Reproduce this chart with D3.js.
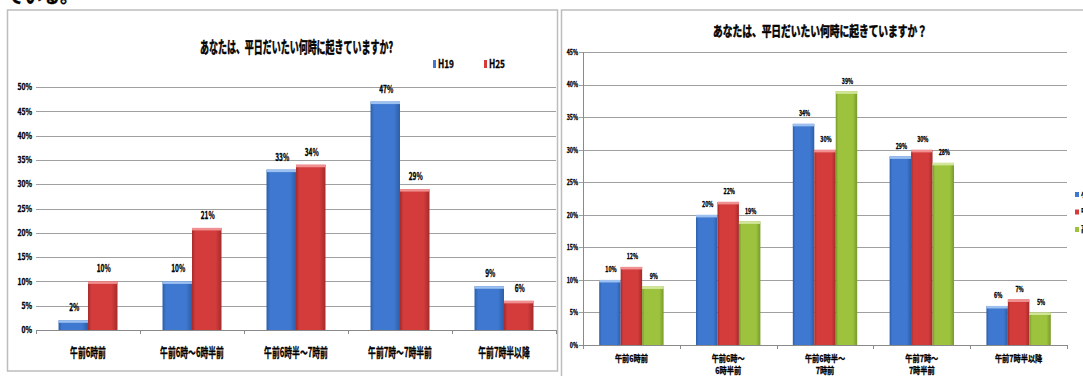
<!DOCTYPE html>
<html><head><meta charset="utf-8">
<script src="https://cdn.jsdelivr.net/npm/d3@7"></script>
<style>
html,body{margin:0;padding:0;background:#fff;}
svg{display:block;}
text{font-family:"Noto Sans CJK JP","Noto Sans",sans-serif;font-weight:bold;fill:#000;stroke:#000;stroke-width:0.3px;}
text.title{stroke-width:0.55px;}
</style></head><body>
<svg id="c" width="1083" height="376"></svg>
<script>
// ---- data ----
const titleA = "あなたは、平日だいたい何時に起きていますか?";
const titleB = "あなたは、平日だいたい何時に起きていますか？";
const categoriesA = ["午前6時前", "午前6時～6時半前", "午前6時半～7時前", "午前7時～7時半前", "午前7時半以降"];
const categoriesB = [["午前6時前"], ["午前6時～", "6時半前"], ["午前6時半～", "7時前"], ["午前7時～", "7時半前"], ["午前7時半以降"]];
const seriesA = ["H19", "H25"];
const h19 = [2, 10, 33, 47, 9];
const h25 = [10, 21, 34, 29, 6];
const seriesB = ["小学生", "中学生", "高校生"];
const valuesB1 = [10, 20, 34, 29, 6];
const valuesB2 = [12, 22, 30, 30, 7];
const valuesB3 = [9, 19, 39, 28, 5];
const ticksA = [0, 5, 10, 15, 20, 25, 30, 35, 40, 45, 50];
const ticksB = [0, 5, 10, 15, 20, 25, 30, 35, 40, 45];

const svg = d3.select("#c");

// bar fills: slightly darker edges and a pale cap on top
const palette = {
  blue:  {dark: "#2c5ea8", main: "#3f78d0", light: "#9cc0f0"},
  red:   {dark: "#a52a2a", main: "#d43c3c", light: "#f09090"},
  green: {dark: "#78992a", main: "#9dc23e", light: "#d2e69a"}
};
const defs = svg.append("defs");
Object.entries(palette).forEach(([k, c]) => {
  const g = defs.append("linearGradient").attr("id", "g-" + k)
    .attr("x1", 0).attr("x2", 1).attr("y1", 0).attr("y2", 0);
  g.append("stop").attr("offset", 0).attr("stop-color", c.dark);
  g.append("stop").attr("offset", 0.12).attr("stop-color", c.main);
  g.append("stop").attr("offset", 0.8).attr("stop-color", c.main);
  g.append("stop").attr("offset", 1).attr("stop-color", c.dark);
});

function squeeze(sel, k) {
  sel.each(function () {
    const w = this.getComputedTextLength();
    this.setAttribute("textLength", w * k);
    this.setAttribute("lengthAdjust", "spacingAndGlyphs");
  });
}

// fragment of the surrounding document text
svg.append("text").attr("x", 6).attr("y", 3).attr("font-size", 18).text("ている。");

function panel(o) {
  const g = svg.append("g");
  g.append("rect").attr("x", o.box[0]).attr("y", o.box[1]).attr("width", o.box[2]).attr("height", o.box[3])
    .attr("fill", "#fff").attr("stroke", "#bdbdbd").attr("stroke-width", 1.5);

  const x = d3.scaleBand().domain(d3.range(o.cats.length)).range(o.xr)
    .paddingInner(o.pad).paddingOuter(o.pad / 2);
  const sub = d3.scaleBand().domain(o.series).range([0, x.bandwidth()]);
  const y = d3.scaleLinear().domain([0, o.ticks[o.ticks.length - 1]]).range(o.yr);

  // gridlines
  g.selectAll(".grid").data(o.ticks).join("line")
    .attr("x1", o.xr[0] - (o.yAxis ? 4 : 0)).attr("x2", o.xr[1])
    .attr("y1", d => Math.round(y(d)) + 0.5).attr("y2", d => Math.round(y(d)) + 0.5)
    .attr("stroke", d => d === 0 ? "#8a8a8a" : "#a0a0a0").attr("stroke-width", 1);
  if (o.yAxis) {
    g.append("line").attr("x1", o.xr[0] + 0.5).attr("x2", o.xr[0] + 0.5)
      .attr("y1", y(o.ticks[o.ticks.length - 1])).attr("y2", y(0)).attr("stroke", "#8a8a8a");
  }
  // category boundary ticks
  const half = (x.step() - x.bandwidth()) / 2;
  const bounds = d3.range(o.cats.length).map(i => x(i) - half).concat([x(o.cats.length - 1) + x.bandwidth() + half]);
  g.selectAll(".xt").data(bounds).join("line")
    .attr("x1", d => Math.round(d) + 0.5).attr("x2", d => Math.round(d) + 0.5)
    .attr("y1", y(0)).attr("y2", y(0) + 4).attr("stroke", "#8a8a8a");

  // y tick labels
  squeeze(g.selectAll(".yl").data(o.ticks).join("text")
    .attr("x", o.ylx).attr("y", d => y(d) + o.yfs * 0.38)
    .attr("text-anchor", "end").attr("font-size", o.yfs).text(d => d + "%"), o.yk);

  // bars
  o.series.forEach((s, si) => {
    const vals = o.values[si], col = palette[o.colors[si]];
    const bg = g.append("g");
    bg.selectAll("rect.bar").data(vals).join("rect")
      .attr("x", (d, i) => x(i) + sub(s)).attr("y", d => y(d))
      .attr("width", sub.bandwidth()).attr("height", d => y(0) - y(d))
      .attr("fill", "url(#g-" + o.colors[si] + ")");
    bg.selectAll("rect.cap").data(vals).join("rect")
      .attr("x", (d, i) => x(i) + sub(s)).attr("y", d => y(d))
      .attr("width", sub.bandwidth()).attr("height", 2.5)
      .attr("fill", col.light);
    squeeze(bg.selectAll("text").data(vals).join("text")
      .attr("x", (d, i) => x(i) + sub(s) + sub.bandwidth() / 2 + 1)
      .attr("y", d => y(d) - o.lblOff)
      .attr("text-anchor", "middle").attr("font-size", o.lfs).text(d => d + "%"), o.lk);
  });

  // category labels
  o.cats.forEach((c, i) => {
    const lines = Array.isArray(c) ? c : [c];
    lines.forEach((t, li) => {
      squeeze(g.append("text").attr("x", x(i) + x.bandwidth() / 2).attr("y", o.cy + li * o.clh)
        .attr("text-anchor", "middle").attr("font-size", o.cfs).text(t), o.ck);
    });
  });

  // title
  g.append("text").attr("class", "title").attr("x", o.title[1]).attr("y", o.title[2]).attr("text-anchor", "middle")
    .attr("font-size", o.title[3]).attr("textLength", o.title[4]).attr("lengthAdjust", "spacingAndGlyphs")
    .text(o.title[0]);

  // legend
  o.series.forEach((s, si) => {
    const p = o.legend(si);
    g.append("rect").attr("x", p[0]).attr("y", p[1]).attr("width", p[2]).attr("height", p[3])
      .attr("fill", palette[o.colors[si]].main);
    squeeze(g.append("text").attr("x", p[0] + p[2] + 2).attr("y", p[1] + p[3] - 0.5)
      .attr("font-size", o.lgfs).text(s), o.lgk);
  });
}

panel({
  box: [7.5, 10, 550, 361],
  cats: categoriesA, series: seriesA, values: [h19, h25], colors: ["blue", "red"],
  ticks: ticksA, xr: [36, 556], yr: [330, 87], pad: 0.433, yAxis: false,
  ylx: 32, yfs: 8.5, yk: 0.8,
  lfs: 10.5, lk: 0.62, lblOff: 9,
  cy: 357, cfs: 13, ck: 0.6, clh: 0,
  title: [titleA, 296.5, 52.5, 15.5, 193],
  legend: si => [433 + si * 51, 60, 3, 8], lgfs: 11, lgk: 0.75
});

panel({
  box: [561.5, 10, 540, 380],
  cats: categoriesB, series: seriesB, values: [valuesB1, valuesB2, valuesB3], colors: ["blue", "red", "green"],
  ticks: ticksB, xr: [583, 1067], yr: [345, 52.3], pad: 0.335, yAxis: true,
  ylx: 578, yfs: 7, yk: 0.75,
  lfs: 7.5, lk: 0.7, lblOff: 7.5,
  cy: 362, cfs: 9, ck: 0.8, clh: 12,
  title: [titleB, 820, 36, 13.5, 214],
  legend: si => [1075, 192 + si * 17.5, 4, 5], lgfs: 8, lgk: 0.9
});
</script>
</body></html>
